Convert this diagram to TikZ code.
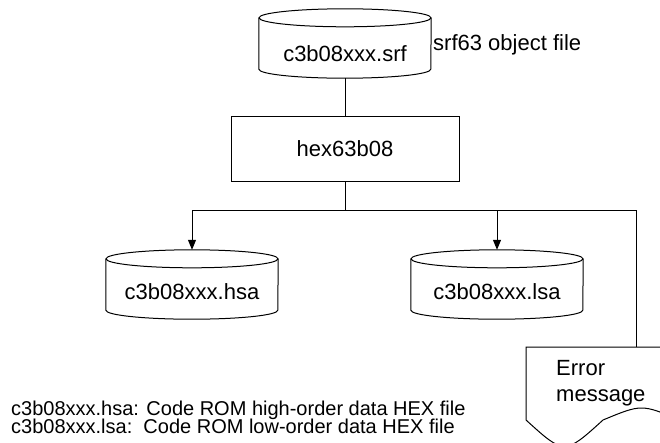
\documentclass[tikz,border=0pt]{standalone}
\usepackage{fontspec}
\setmainfont{Liberation Sans}
\usetikzlibrary{arrows.meta,calc}
\tikzset{
  line/.style={draw=black, line width=1pt},
  cylbody/.style={minimum width=172pt, inner sep=0pt, draw=none},
  lbl/.style={font=\fontsize{22}{26}\selectfont, inner sep=0pt},
  note/.style={font=\fontsize{20}{24}\selectfont, inner sep=0pt, anchor=base west},
  arr/.style={line, -{Triangle[width=8pt,length=10pt]}},
}
\newcommand{\drawcyl}[1]{%
  \draw[line] ([yshift=-9pt]#1.north west) -- ([yshift=9pt]#1.south west)
    arc[start angle=180,end angle=360,x radius=86pt,y radius=9pt]
    -- ([yshift=-9pt]#1.north east);
  \draw[line] ([yshift=-9pt]#1.north) ellipse[x radius=86pt, y radius=9pt];%
}
\begin{document}
\begin{tikzpicture}[x=1pt,y=-1pt]
\useasboundingbox (0,0) rectangle (660,442);
\clip (0,0) rectangle (660,442);
% top cylinder
\node[cylbody, minimum height=69pt] (srf) at (345,43.5) {};
\drawcyl{srf}
\node[lbl] (srft) at (345,53.5) {c3b08xxx.srf};
\node[lbl, anchor=west] (srfnote) at (433,45) {srf63 object file};
% process box
\node[line, minimum width=228pt, minimum height=65pt, inner sep=0pt] (hex) at (345,148.5) {};
\node[lbl] (hext) at (hex.center) {hex63b08};
% output cylinders
\node[cylbody, minimum height=69pt] (hsa) at (192,284.5) {};
\drawcyl{hsa}
\node[lbl] (hsat) at (192,292) {c3b08xxx.hsa};
\node[cylbody, minimum height=69pt] (lsa) at (497,284.5) {};
\drawcyl{lsa}
\node[lbl] (lsat) at (497,292) {c3b08xxx.lsa};
% error document
\node[draw=none, minimum width=154pt, minimum height=91pt, inner sep=0pt] (err) at (603,392.5) {};
\draw[line] (526,420) -- (526,347) -- (680,347) -- (680,420)
  .. controls (641.5,404) .. (603,420) .. controls (564.5,455) .. (526,420) -- cycle;
\node[lbl, anchor=base west] (errt1) at (556,375) {Error};
\node[lbl, anchor=base west] (errt2) at (556,401) {message};
\coordinate (errin) at ($(err.north west)+(111,0)$);
% connectors
\draw[line] (srf.south) -- (hex.north);
\draw[line] (hex.south) -- ++(0,29) coordinate (j);
\draw[arr] (j) -| (hsa.north);
\draw[arr] (j) -| (lsa.north);
\draw[line] (j) -| (errin);
% notes
\node[note] (n1) at (11,415) {c3b08xxx.hsa: Code ROM high-order data HEX file};
\node[note] (n2) at (11,433.5) {c3b08xxx.lsa:\ \ Code ROM low-order data HEX file};
\end{tikzpicture}
\end{document}
